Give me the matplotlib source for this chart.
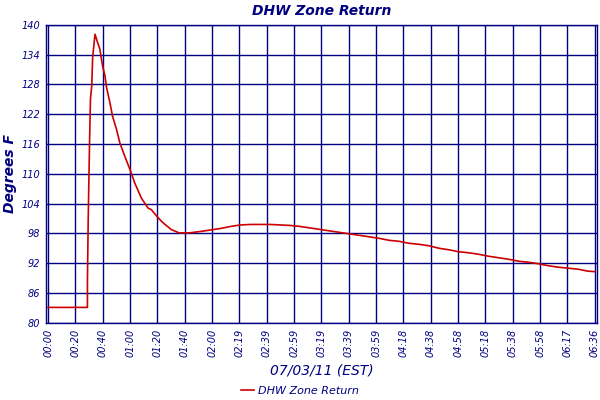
import matplotlib.pyplot as plt

navy = '#000080'
red = '#cc0000'

# minutes since 00:00 and temperature readings (deg F)
minutes = [0, 28.5, 28.5, 29.1, 30.0, 30.7, 31.6, 32.3, 34.0, 35.9, 37.4, 39.5, 41.2,
           42.4, 44.8, 46.7, 49.6, 52.0, 55.6, 59.4, 62.7, 67.6, 72.4, 74.7, 78.3,
           81.9, 84.3, 89.1, 94.9, 102.1, 110.7, 117.9, 125.1, 132.2, 139.4, 146.6,
           161.0, 175.4, 182.5, 189.7, 196.9, 204.1, 211.3, 218.5, 225.7, 232.9,
           240.0, 247.2, 254.4, 261.6, 268.8, 276.0, 283.2, 290.4, 297.5, 304.7,
           311.9, 319.1, 326.3, 333.5, 340.7, 347.8, 355.0, 362.2, 369.4, 376.6,
           383.8, 391.0, 396.0]
temps = [83.1, 83.1, 88.6, 101.4, 115.9, 125.0, 127.7, 133.5, 138.1, 136.4, 135.2,
         131.7, 129.7, 127.3, 124.3, 121.6, 118.9, 116.2, 113.5, 110.8, 108.2, 105.1,
         103.1, 102.8, 101.6, 100.5, 99.9, 98.8, 98.1, 98.1, 98.4, 98.7, 99.0, 99.4,
         99.7, 99.8, 99.8, 99.6, 99.4, 99.1, 98.8, 98.5, 98.2, 97.9, 97.6, 97.3, 97.0,
         96.6, 96.4, 96.0, 95.8, 95.5, 95.0, 94.7, 94.3, 94.1, 93.8, 93.4, 93.1, 92.8,
         92.4, 92.2, 91.9, 91.5, 91.2, 91.0, 90.8, 90.4, 90.3]

tick_labels = ['00:00', '00:20', '00:40', '01:00', '01:20', '01:40', '02:00', '02:19',
               '02:39', '02:59', '03:19', '03:39', '03:59', '04:18', '04:38', '04:58',
               '05:18', '05:38', '05:58', '06:17', '06:36']
y_ticks = list(range(80, 141, 6))

tick_pos = [i * 396 / 20 for i in range(len(tick_labels))]

fig = plt.figure(figsize=(6, 4), dpi=100)
ax = fig.add_axes([0.0767, 0.193, 0.918, 0.745])

ax.plot(minutes, temps, color=red, linewidth=1.2, label='DHW Zone Return')

ax.set_xlim(-1.5, 397.5)
ax.set_ylim(80, 140)
ax.set_xticks(tick_pos)
ax.set_xticklabels(tick_labels, rotation=90, fontsize=7, style='italic', color=navy)
ax.set_yticks(y_ticks)
ax.set_yticklabels([str(v) for v in y_ticks], fontsize=7, style='italic', color=navy)
ax.tick_params(length=0, pad=4)
ax.grid(True, color=navy, linewidth=1)
ax.set_axisbelow(True)
for s in ax.spines.values():
    s.set_color(navy)
    s.set_linewidth(1)

ax.set_title('DHW Zone Return', fontsize=10, style='italic', fontweight='bold',
             color=navy, pad=7)
ax.set_ylabel('Degrees F', fontsize=10, style='italic', fontweight='bold', color=navy)
ax.yaxis.set_label_coords(-0.052, 0.5)
ax.set_xlabel('07/03/11 (EST)', fontsize=10, style='italic', color=navy, labelpad=5)

leg = fig.legend(loc='lower center', bbox_to_anchor=(0.5, -0.015), frameon=False,
                 fontsize=8, handlelength=1.2, handletextpad=0.4)
for t in leg.get_texts():
    t.set_color(navy)
    t.set_style('italic')

fig.savefig('out.png', dpi=100)
